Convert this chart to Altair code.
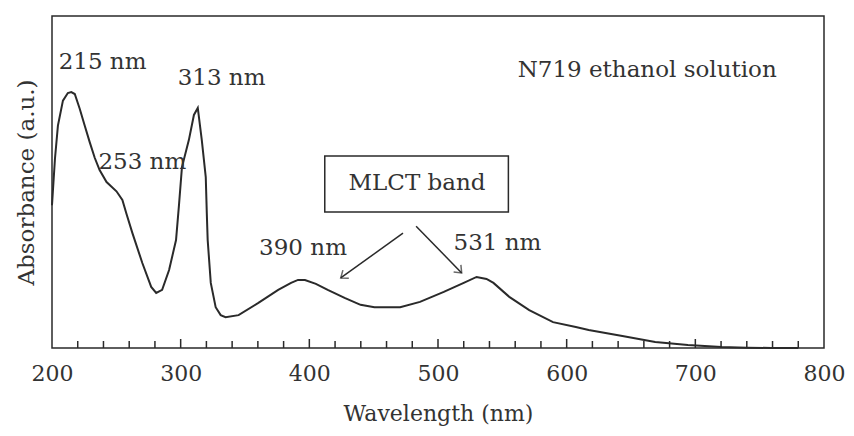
import altair as alt
import pandas as pd
import math

# ---- data ----
wavelength = [200, 202.3, 204.6, 208.5, 212.3, 215, 217.7, 221.6, 225.4, 229.3, 233.2, 237,
              242.4, 250.1, 254.7, 257.8, 262.5, 270.2, 277.1, 281, 285.6, 291, 296.4, 298.7,
              301, 306.4, 310.3, 313.3, 316.4, 319.5, 320.3, 321, 323.4, 327.2, 331.1, 334.9,
              345, 360.4, 375.8, 385.8, 391.2, 396.6, 405.1, 414.3, 427.4, 439.8, 450.6,
              470.6, 486, 504.5, 520, 530, 537.7, 543.1, 555.4, 570.9, 589.4, 607.1, 617.1,
              643.3, 668.8, 694.2, 720.4, 740, 759, 780]
absorbance = [0.43, 0.57, 0.67, 0.745, 0.768, 0.771, 0.765, 0.72, 0.67, 0.62, 0.573, 0.536,
              0.50, 0.472, 0.446, 0.405, 0.346, 0.256, 0.184, 0.166, 0.175, 0.235, 0.325, 0.431,
              0.545, 0.627, 0.702, 0.723, 0.627, 0.515, 0.407, 0.325, 0.196, 0.123, 0.099, 0.093,
              0.099, 0.136, 0.175, 0.196, 0.205, 0.205, 0.193, 0.175, 0.151, 0.130, 0.123,
              0.123, 0.139, 0.169, 0.196, 0.214, 0.208, 0.196, 0.154, 0.114, 0.078, 0.063, 0.054,
              0.036, 0.018, 0.009, 0.003, 0.001, 0.0, 0.0]

peak_labels = ["215 nm", "253 nm", "313 nm", "390 nm", "531 nm", "N719 ethanol solution"]
label_x = [239.3, 270.2, 331.8, 395.1, 546.2, 662.6]
label_y = [0.861, 0.560, 0.813, 0.301, 0.316, 0.837]

box_label = ["MLCT band"]
box_x = [412.0]
box_x2 = [554.7]
box_y = [0.578]
box_y2 = [0.410]
box_text_x = [483.7]
box_text_y = [0.497]

arrow_x = [472.8, 483.0]
arrow_y = [0.346, 0.367]
arrow_x2 = [424.4, 518.4]
arrow_y2 = [0.211, 0.226]

minor_ticks = [220, 240, 260, 280, 320, 340, 360, 380, 420, 440, 460, 480,
               520, 540, 560, 580, 620, 640, 660, 680, 720, 740, 760, 780]
major_ticks = [300, 400, 500, 600, 700]

FONT = "DejaVu Serif"
FS = 23
INK = "#2a2a2a"
TXT = "#333333"
W, H = 772, 332

spec = pd.DataFrame({"wl": wavelength, "ab": absorbance})
xs = alt.Scale(domain=[200, 800], nice=False)
ys = alt.Scale(domain=[0, 1], nice=False)

x_axis = alt.Axis(values=[200, 300, 400, 500, 600, 700, 800], format="d", ticks=False,
                  grid=False, domain=False, labelFont=FONT, labelFontSize=22,
                  labelColor=TXT, labelPadding=15, labelFlush=False, labelOverlap=False,
                  title="Wavelength (nm)",
                  titleFont=FONT, titleFontSize=22, titleFontWeight="normal",
                  titleColor=TXT, titlePadding=19)
y_axis = alt.Axis(ticks=False, labels=False, grid=False, domain=False,
                  title="Absorbance (a.u.)", titleFont=FONT, titleFontSize=FS,
                  titleFontWeight="normal", titleColor=TXT, titlePadding=14)

line = alt.Chart(spec).mark_line(color=INK, strokeWidth=2).encode(
    x=alt.X("wl:Q", scale=xs, axis=x_axis),
    y=alt.Y("ab:Q", scale=ys, axis=y_axis),
)

minor_df = pd.DataFrame({"t": minor_ticks})
major_df = pd.DataFrame({"t": major_ticks})
minor = alt.Chart(minor_df).mark_rule(color=INK, strokeWidth=1.5).encode(
    x=alt.X("t:Q", scale=xs), y=alt.value(H), y2=alt.value(H - 7))
major = alt.Chart(major_df).mark_rule(color=INK, strokeWidth=1.5).encode(
    x=alt.X("t:Q", scale=xs), y=alt.value(H), y2=alt.value(H - 9))

labels_df = pd.DataFrame({"txt": peak_labels, "x": label_x, "y": label_y})
labels = alt.Chart(labels_df).mark_text(font=FONT, fontSize=FS, color=TXT,
                                        align="center", baseline="middle").encode(
    x=alt.X("x:Q", scale=xs), y=alt.Y("y:Q", scale=ys), text="txt:N")

box_df = pd.DataFrame({"x": box_x, "x2": box_x2, "y": box_y, "y2": box_y2})
box = alt.Chart(box_df).mark_rect(fill="white", stroke=INK, strokeWidth=1.5).encode(
    x=alt.X("x:Q", scale=xs), x2="x2:Q", y=alt.Y("y:Q", scale=ys), y2="y2:Q")

box_text_df = pd.DataFrame({"txt": box_label, "x": box_text_x, "y": box_text_y})
box_text = alt.Chart(box_text_df).mark_text(font=FONT, fontSize=FS, color=TXT,
                                            align="center", baseline="middle").encode(
    x=alt.X("x:Q", scale=xs), y=alt.Y("y:Q", scale=ys), text="txt:N")

# direction angle of each arrow in screen space (degrees, clockwise)
angles = []
for a, b, c, d in zip(arrow_x, arrow_y, arrow_x2, arrow_y2):
    dx = (c - a) * W / 600.0
    dy = -(d - b) * H / 1.0
    ang = math.degrees(math.atan2(dy, dx)) % 360
    angles.append(ang)

arrow_df = pd.DataFrame({"x": arrow_x, "y": arrow_y, "x2": arrow_x2, "y2": arrow_y2,
                         "ang": angles})
shafts = alt.Chart(arrow_df).mark_rule(color=INK, strokeWidth=1.5).encode(
    x=alt.X("x:Q", scale=xs), y=alt.Y("y:Q", scale=ys), x2="x2:Q", y2="y2:Q")
heads = alt.Chart(arrow_df).mark_point(
    shape="M-1,-0.8L0,0L-1,0.8", filled=False, stroke=INK, strokeWidth=1.5, size=160
).encode(
    x=alt.X("x2:Q", scale=xs), y=alt.Y("y2:Q", scale=ys),
    angle=alt.Angle("ang:Q", scale=None),
)

chart = alt.layer(minor, major, line, labels, box, box_text, shafts, heads).properties(
    width=W, height=H,
    autosize=alt.AutoSizeParams(type="none"),
    padding={"left": 44, "top": 8, "right": 22, "bottom": 80},
    background="white",
).configure_view(stroke=INK, strokeWidth=1.5)

chart.save("out.html", embed_options={"renderer": "svg", "actions": False})
